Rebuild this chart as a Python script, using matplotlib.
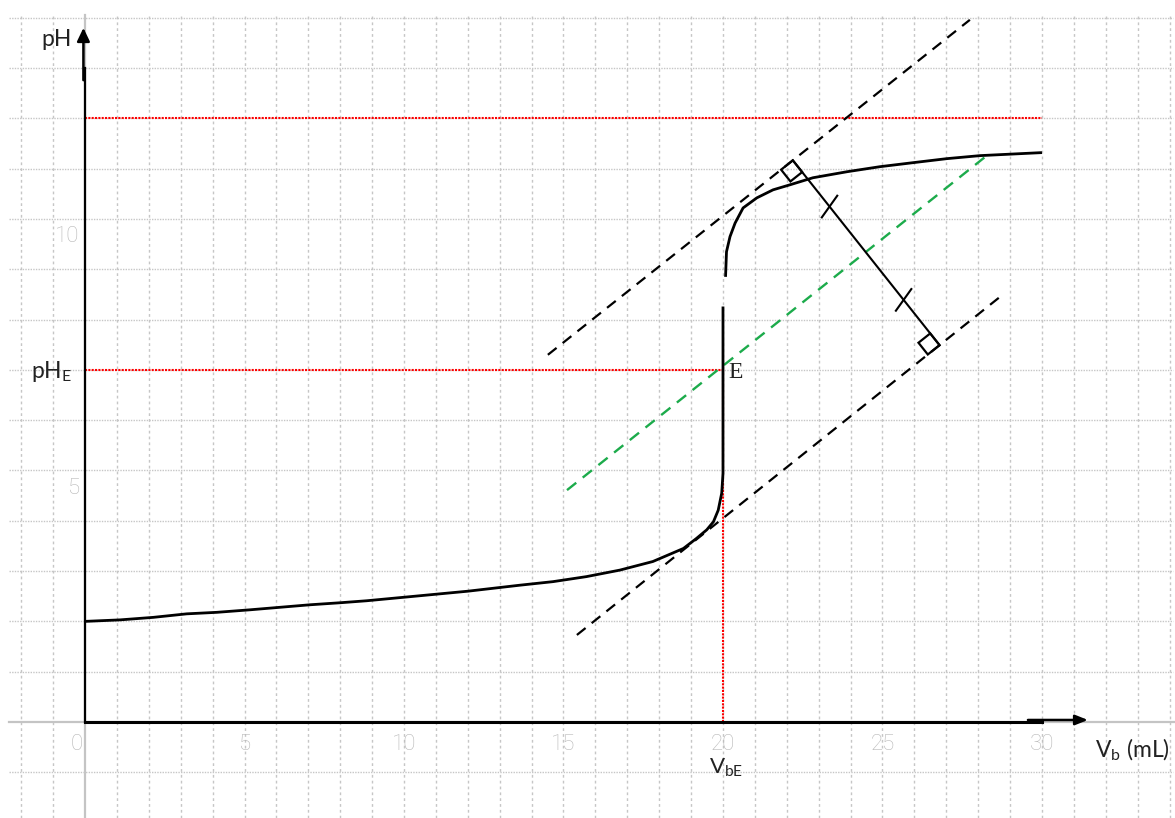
import matplotlib
matplotlib.use('Agg')
import matplotlib.pyplot as plt
import numpy as np
from matplotlib.patches import Polygon

plt.rcParams['mathtext.fontset'] = 'custom'
plt.rcParams['mathtext.rm'] = 'Lato'
plt.rcParams['mathtext.it'] = 'Lato:italic'
plt.rcParams['mathtext.bf'] = 'Lato:bold'

# ---------------- data ----------------
x_tick_values = [0, 5, 10, 15, 20, 25, 30]
x_tick_labels = ['0', '5', '10', '15', '20', '25', '30']
y_tick_values = [5, 10]
y_tick_labels = ['5', '10']

v_eq = 20.0          # V_bE (mL)
ph_eq = 7.0          # pH_E
ph_top_line = 12.0   # red reference line
v_end = 30.0

# titration curve, before the jump (V in mL, pH)
lower_v = [0.0, 1.1, 2.14, 3.19, 4.13, 5.17, 6.11, 7.05, 7.99, 8.83, 10.0,
           12.0, 13.64, 14.67, 15.72, 16.77, 17.8, 18.76, 19.17, 19.49,
           19.70, 19.85, 19.96, 20.0, 20.0]
lower_ph = [2.0, 2.03, 2.08, 2.15, 2.18, 2.23, 2.28, 2.33, 2.37, 2.41, 2.48,
            2.60, 2.72, 2.79, 2.89, 3.02, 3.19, 3.45, 3.65, 3.82,
            3.98, 4.21, 4.55, 4.94, 8.26]
# titration curve, after the jump
upper_v = [20.08, 20.11, 20.22, 20.38, 20.63, 21.06, 21.57, 22.1, 22.82,
           23.89, 24.92, 25.96, 27.02, 28.06, 30.0]
upper_ph = [8.85, 9.35, 9.65, 9.92, 10.22, 10.42, 10.58, 10.68, 10.82,
            10.94, 11.04, 11.12, 11.20, 11.26, 11.32]

# parallel tangents and median line (tangent method)
tan_up_v = [14.51, 27.74]
tan_up_ph = [7.30, 13.96]
tan_low_v = [15.42, 28.68]
tan_low_ph = [1.73, 8.45]
median_v = [15.11, 28.21]
median_ph = [4.61, 11.23]
perp_foot_v = 22.19  # where the perpendicular leaves the upper tangent

# ---------------- figure ----------------
fig = plt.figure(figsize=(11.75, 8.18), dpi=100)
ax = fig.add_axes([0, 0, 1, 1])
XMIN, XMAX = -2.665, 34.17
YMIN, YMAX = -1.909, 14.354
ax.set_xlim(XMIN, XMAX)
ax.set_ylim(YMIN, YMAX)
ax.axis('off')

grid_c = '#c6c6c6'
for v in range(-2, 35):
    if v == 0:
        continue
    ax.plot([v, v], [YMIN, 14.06], color=grid_c, lw=1.0,
            linestyle=(0, (2, 2.2)), zorder=0)
for p in range(-1, 15):
    if p == 0:
        continue
    ax.plot([-2.38, 34.1], [p, p], color=grid_c, lw=1.0,
            linestyle=(0, (1.0, 0.9)), zorder=0)

# gray axis lines
ax.plot([-2.38, XMAX], [0, 0], color='#c4c4c4', lw=1.6, zorder=1)
ax.plot([0, 0], [YMIN, 14.06], color='#c4c4c4', lw=1.6, zorder=1)
# black axis lines
ax.plot([0, v_end], [0, 0], color='black', lw=2.2, zorder=3)
ax.plot([0, 0], [0, 13.0], color='black', lw=1.6, zorder=3)

# axis arrows
ax.annotate('', xy=(-0.05, 13.80), xytext=(-0.05, 12.76),
            arrowprops=dict(arrowstyle='-|>,head_length=0.8,head_width=0.38',
                            lw=1.8, color='black', shrinkA=0, shrinkB=0),
            zorder=4)
ax.annotate('', xy=(31.44, 0.04), xytext=(29.56, 0.04),
            arrowprops=dict(arrowstyle='-|>,head_length=0.75,head_width=0.3',
                            lw=1.8, color='black', shrinkA=0, shrinkB=0),
            zorder=4)

# red dotted reference lines
red_ls = (0, (1, 0.6))
ax.plot([0, v_end], [ph_top_line, ph_top_line], color='red', lw=1.5,
        linestyle=red_ls, zorder=2)
ax.plot([0, v_eq], [ph_eq, ph_eq], color='red', lw=1.5, linestyle=red_ls,
        zorder=2)
ax.plot([v_eq, v_eq], [0, ph_eq], color='red', lw=1.5, linestyle=red_ls,
        zorder=2)

# titration curve
ax.plot(lower_v, lower_ph, color='black', lw=2.0, zorder=5,
        solid_capstyle='butt')
ax.plot(upper_v, upper_ph, color='black', lw=2.0, zorder=5,
        solid_capstyle='butt')

# tangents
ax.plot(tan_up_v, tan_up_ph, color='black', lw=1.6, dashes=(5, 3.5), zorder=4)
ax.plot(tan_low_v, tan_low_ph, color='black', lw=1.6, dashes=(5, 3.5),
        zorder=4)
ax.plot(median_v, median_ph, color='#1cab4b', lw=1.7, dashes=(5, 3.5),
        zorder=4)

# perpendicular construction (in display space)
to_d = ax.transData.transform
to_v = ax.transData.inverted().transform


def line_at(vs, phs, v):
    return phs[0] + (phs[1] - phs[0]) * (v - vs[0]) / (vs[1] - vs[0])


A1 = to_d((tan_up_v[0], tan_up_ph[0]))
A2 = to_d((tan_up_v[1], tan_up_ph[1]))
u = (A2 - A1) / np.linalg.norm(A2 - A1)
n = np.array([u[1], -u[0]])
F = to_d((perp_foot_v, line_at(tan_up_v, tan_up_ph, perp_foot_v)))
B1 = to_d((tan_low_v[0], tan_low_ph[0]))
B2 = to_d((tan_low_v[1], tan_low_ph[1]))
w = B2 - B1
M = np.column_stack([n, -w])
t, s = np.linalg.solve(M, B1 - F)
G = F + t * n

seg = to_v(np.array([F, G]))
ax.plot(seg[:, 0], seg[:, 1], color='black', lw=1.5, zorder=6)

side = 15.0
sq1 = np.array([F, F + side * n, F + side * n - side * u, F - side * u])
sq2 = np.array([G, G - side * n, G - side * n - side * u, G - side * u])
for sq in (sq1, sq2):
    ax.add_patch(Polygon(to_v(sq), closed=True, fill=False,
                         edgecolor='black', lw=1.6, zorder=6))

ang = np.deg2rad(54.5)
tick_dir = np.array([np.cos(ang), np.sin(ang)])
for frac in (0.25, 0.755):
    c = F + frac * (G - F)
    pts = to_v(np.array([c - 13.3 * tick_dir, c + 13.3 * tick_dir]))
    ax.plot(pts[:, 0], pts[:, 1], color='black', lw=1.5, zorder=6)

# ---------------- texts ----------------
tick_font = ['Liberation Sans Narrow', 'Roboto', 'DejaVu Sans']
tick_color = '#b8b8b8'
for val, lab in zip(x_tick_values, x_tick_labels):
    xpos = val - 0.25 if val == 0 else val
    ax.text(xpos, -0.44, lab, ha='center', va='center', fontsize=16,
            color=tick_color, family=tick_font, fontweight='light')
for val, lab in zip(y_tick_values, y_tick_labels):
    ax.text(-0.18, val - 0.35, lab, ha='right', va='center', fontsize=16,
            color=tick_color, family=tick_font, fontweight='light')

lab_font = ['Lato', 'DejaVu Sans']
ax.text(-0.42, 13.56, 'pH', ha='right', va='center', fontsize=16.5,
        family=lab_font, color='#222222')
ax.text(-0.42, 6.96, r'pH$_\mathregular{E}$', ha='right', va='center',
        fontsize=16.5, family=lab_font, color='#222222')
ax.text(v_eq + 0.1, -0.92, r'V$_\mathregular{bE}$', ha='center',
        va='center', fontsize=16, family=lab_font, color='#222222')
ax.text(31.66, -0.56, r'V$_\mathregular{b}$ (mL)', ha='left', va='center',
        fontsize=16.5, family=lab_font, color='#222222')
ax.text(v_eq + 0.16, 6.94, 'E', ha='left', va='center', fontsize=17,
        family=['Liberation Serif', 'DejaVu Serif'], color='#222222')

fig.savefig('out.png', dpi=100)
